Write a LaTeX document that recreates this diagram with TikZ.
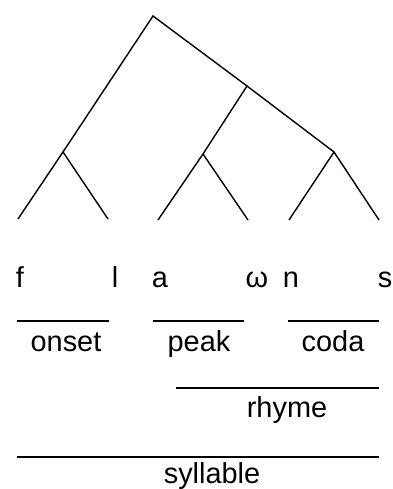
\documentclass[tikz,border=0pt]{standalone}
\usepackage{fontspec}
\setmainfont{Liberation Sans}
\begin{document}
\begin{tikzpicture}[x=1bp,y=-1bp,
  branch/.style={line width=1.4bp,black},
  seg/.style={line width=1.4bp,black},
  lab/.style={inner sep=0pt,anchor=base,font=\fontsize{29}{29}\selectfont}]
\useasboundingbox (0,0) rectangle (392,489);
% tree
\coordinate (root) at (153,16);
\coordinate (on) at (63,152);
\coordinate (rh) at (247,86);
\coordinate (pk) at (203,154);
\coordinate (cd) at (334,152);
\coordinate (l1) at (18,219);
\coordinate (l2) at (108,219);
\coordinate (l3) at (158,220);
\coordinate (l4) at (248,220);
\coordinate (l5) at (289,220);
\coordinate (l6) at (379,220);
\draw[branch] (l1) -- (on) -- (root) -- (rh) -- (cd) -- (l6);
\draw[branch] (on) -- (l2);
\draw[branch] (rh) -- (pk) -- (l3);
\draw[branch] (pk) -- (l4);
\draw[branch] (cd) -- (l5);
% segments
\node[lab] (f) at (20,287) {f};
\node[lab] (l) at (115,287) {l};
\node[lab] (a) at (160,287) {a};
\node[lab] (w) at (257,287) {ω};
\node[lab] (n) at (291,287) {n};
\node[lab] (s) at (385,287) {s};
% constituent lines
\coordinate (o1) at (17,321); \coordinate (o2) at (109,321);
\coordinate (p1) at (153,321); \coordinate (p2) at (244,321);
\coordinate (c1) at (288,321); \coordinate (c2) at (379,321);
\coordinate (r1) at (176,388); \coordinate (r2) at (379,388);
\coordinate (s1) at (17,457); \coordinate (s2) at (379,457);
\draw[seg] (o1) -- (o2);
\draw[seg] (p1) -- (p2);
\draw[seg] (c1) -- (c2);
\draw[seg] (r1) -- (r2);
\draw[seg] (s1) -- (s2);
\node[lab] (onset) at (66,351) {onset};
\node[lab] (peak) at (199,351) {peak};
\node[lab] (coda) at (333,351) {coda};
\node[lab] (rhyme) at (287,417) {rhyme};
\node[lab] (syll) at (212,483) {syllable};
\end{tikzpicture}
\end{document}
